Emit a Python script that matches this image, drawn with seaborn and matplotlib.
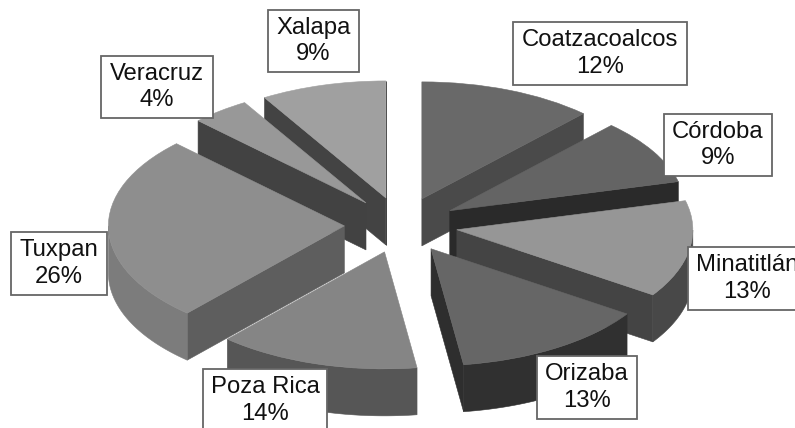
import numpy as np
import matplotlib
matplotlib.use("Agg")
import matplotlib.pyplot as plt
from matplotlib.patches import Polygon, Rectangle
import seaborn as sns

cities = ["Coatzacoalcos", "Córdoba", "Minatitlán", "Orizaba", "Poza Rica", "Tuxpan", "Veracruz", "Xalapa"]
shares = [12.0, 9.0, 13.4, 13.4, 13.8, 25.8, 4.0, 8.6]
top_grey = ["#696969", "#646464", "#969696", "#666666", "#858585", "#8e8e8e", "#989898", "#a0a0a0"]
cut_grey = ["#4a4a4a", "#2a2a2a", "#444444", "#2e2e2e", "#4a4a4a", "#5e5e5e", "#424242", "#434343"]
rim_grey = ["#555555", "#3a3a3a", "#484848", "#303030", "#565656", "#7c7c7c", "#555555", "#555555"]
label_boxes = [(513, 22, 687, 85), (664, 114, 772, 176), (688, 247, 806, 310), (537, 356, 637, 419),
               (203, 369, 327, 432), (11, 232, 107, 295), (101, 56, 213, 118), (268, 10, 359, 72)]

W, H = 795, 428
RX, RY = 236.0, 117.0
CX, CY = 401.0, 225.0
DEPTH = 47.0 / RY

sns.set_theme(style="white")
plt.rcParams["font.family"] = ["Liberation Sans", "DejaVu Sans"]

fig = plt.figure(figsize=(W / 100, H / 100), dpi=100, facecolor="white")
ax = fig.add_axes([0, 0, 1, 1])
wedges, _ = ax.pie(shares, explode=[0.24] * len(shares), startangle=90,
                   counterclock=False, colors=top_grey, radius=1,
                   wedgeprops=dict(linewidth=0.4))
ax.set_aspect("auto")
ax.set_xlim(-CX / RX, (W - CX) / RX)
ax.set_ylim((CY - H) / RY, CY / RY)
ax.axis("off")


def pt(center, deg, r=1.0):
    a = np.deg2rad(deg)
    return np.array([center[0] + r * np.cos(a), center[1] + r * np.sin(a)])


order = np.argsort([-w.center[1] for w in wedges])
for rank, idx in enumerate(order):
    w = wedges[idx]
    base = 2 + rank * 2
    w.set_zorder(base + 1)
    w.set_edgecolor(top_grey[idx])
    c, t1, t2 = w.center, w.theta1, w.theta2
    down = np.array([0, -DEPTH])
    # flat cut faces
    for theta, normal in ((t1, t1 - 90), (t2, t2 + 90)):
        if np.sin(np.deg2rad(normal)) < 0:
            a, b = np.array(c), pt(c, theta, w.r)
            ax.add_patch(Polygon([a, b, b + down, a + down], closed=True,
                                 facecolor=cut_grey[idx], edgecolor=cut_grey[idx],
                                 linewidth=0.4, zorder=base))
    # outer rim: only the part facing the viewer
    ts = np.linspace(t1, t2, 200)
    ts = ts[np.sin(np.deg2rad(ts)) <= 0]
    if ts.size > 1:
        arc = np.array([pt(c, t, w.r) for t in ts])
        ax.add_patch(Polygon(np.vstack([arc, (arc + down)[::-1]]), closed=True,
                             facecolor=rim_grey[idx], edgecolor=rim_grey[idx],
                             linewidth=0.4, zorder=base))

for city, share, (x0, y0, x1, y1) in zip(cities, shares, label_boxes):
    fig.add_artist(Rectangle((x0 / W, 1 - y1 / H), (x1 - x0) / W, (y1 - y0) / H,
                             transform=fig.transFigure, facecolor="white",
                             edgecolor="#666666", linewidth=1.3, zorder=40))
    fig.text((x0 + x1) / 2 / W, 1 - (y0 + min(y1, y0 + 63)) / 2 / H, f"{city}\n{share:.0f}%",
             ha="center", va="center", fontsize=17.2, color="#111111",
             linespacing=1.28, zorder=50)

fig.savefig("out.png", dpi=100)
